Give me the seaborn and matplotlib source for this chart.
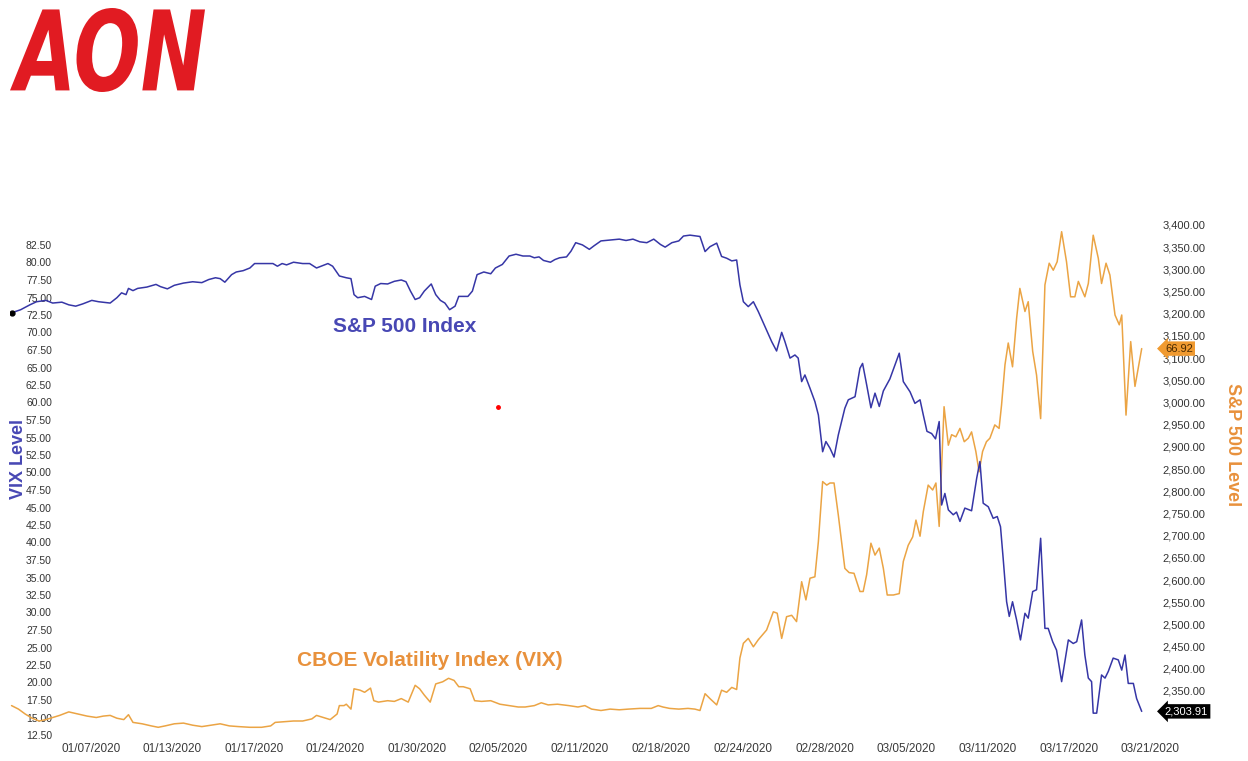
import matplotlib
matplotlib.use("Agg")
import matplotlib.pyplot as plt
import matplotlib.transforms as mtransforms
from matplotlib.textpath import TextPath
from matplotlib.patches import PathPatch
from matplotlib.font_manager import FontProperties
from matplotlib.ticker import FuncFormatter
import numpy as np
import seaborn as sns

# x axis is in trading-session units (01/07/2020 = 3, one tick every 4 sessions)
sp_day = [-0.90, -0.45, 0.00, 0.33, 0.79, 1.12, 1.57, 1.91, 2.25, 2.59, 3.04, 3.37, 3.94, 4.27, 4.50,
          4.72, 4.84, 5.06, 5.29, 5.74, 6.19, 6.41, 6.75, 7.09, 7.54, 7.99, 8.44, 8.78, 9.11, 9.34,
          9.57, 9.90, 10.13, 10.47, 10.80, 11.03, 11.48, 11.93, 12.15, 12.38, 12.60, 12.94, 13.39,
          13.73, 14.07, 14.29, 14.63, 14.86, 15.19, 15.53, 15.76, 15.91, 16.09, 16.43, 16.77, 16.95,
          17.22, 17.56, 17.89, 18.23, 18.46, 18.68, 18.91, 19.13, 19.36, 19.70, 19.92, 20.15, 20.37,
          20.60, 20.87, 21.05, 21.50, 21.72, 21.95, 22.28, 22.62, 22.85, 23.19, 23.52, 23.86, 24.20,
          24.54, 24.76, 24.99, 25.21, 25.55, 25.77, 26.00, 26.34, 26.56, 26.79, 27.12, 27.46, 27.69,
          28.03, 28.48, 28.93, 29.26, 29.60, 29.94, 30.28, 30.62, 30.95, 31.18, 31.51, 31.85, 32.08,
          32.40, 32.89, 33.14, 33.38, 33.71, 33.95, 34.20, 34.45, 34.69, 34.85, 35.02, 35.26, 35.51,
          35.75, 36.08, 36.41, 36.65, 36.90, 37.06, 37.31, 37.55, 37.71, 37.88, 38.04, 38.29, 38.53,
          38.70, 38.91, 39.07, 39.27, 39.47, 39.68, 40.00, 40.17, 40.50, 40.74, 40.87, 41.07, 41.28,
          41.48, 41.69, 41.89, 42.21, 42.67, 42.87, 43.20, 43.44, 43.69, 43.85, 44.03, 44.26, 44.45,
          44.63, 44.75, 44.91, 45.08, 45.32, 45.48, 45.65, 45.89, 46.22, 46.47, 46.63, 46.79, 47.04,
          47.28, 47.48, 47.64, 47.77, 47.94, 48.07, 48.23, 48.43, 48.62, 48.84, 49.00, 49.22, 49.41,
          49.61, 49.82, 49.98, 50.20, 50.39, 50.64, 50.97, 51.21, 51.38, 51.62, 51.78, 51.95, 52.11,
          52.19, 52.36, 52.60, 52.77, 52.93, 53.17, 53.42, 53.59, 53.75, 53.91, 54.16, 54.32, 54.57]
sp_level = [3202, 3209, 3220, 3227, 3230, 3224, 3226, 3220, 3217, 3222, 3230, 3227, 3224, 3236, 3247,
            3243, 3257, 3252, 3257, 3260, 3266, 3261, 3256, 3264, 3269, 3272, 3270, 3277, 3281, 3279,
            3271, 3288, 3294, 3297, 3303, 3313, 3313, 3313, 3307, 3313, 3310, 3316, 3313,
            3313, 3303, 3307, 3313, 3307, 3285, 3281, 3279, 3243, 3236, 3239, 3232, 3262,
            3268, 3267, 3273, 3276, 3272, 3251, 3232, 3236, 3251, 3267, 3243, 3230, 3224,
            3209, 3217, 3239, 3239, 3251, 3288, 3294, 3290, 3303, 3311, 3330, 3334, 3330,
            3330, 3326, 3328, 3320, 3316, 3322, 3326, 3328, 3341, 3360, 3355, 3345, 3353,
            3364, 3366, 3368, 3365, 3368, 3362, 3360, 3368, 3356, 3350, 3360, 3364, 3375,
            3377, 3374, 3340, 3351, 3359, 3329, 3325, 3319, 3321, 3265, 3227, 3216, 3227,
            3205, 3171, 3137, 3116, 3158, 3137, 3100, 3107, 3100, 3047, 3062, 3032, 3002,
            2972, 2889, 2912, 2897, 2877, 2927, 2987, 3006, 3013, 3077, 3088, 3040, 2988,
            3021, 2991, 3026, 3053, 3111, 3047, 3024, 2998, 3006, 2972, 2935, 2930, 2918,
            2957, 2769, 2795, 2758, 2747, 2753, 2732, 2762, 2756, 2829, 2867, 2773, 2765,
            2739, 2743, 2720, 2649, 2551, 2518, 2551, 2510, 2465, 2525, 2514, 2574, 2578,
            2694, 2491, 2491, 2461, 2442, 2371, 2465, 2457, 2461, 2510, 2431, 2379, 2371,
            2300, 2300, 2386, 2379, 2394, 2424, 2420, 2397, 2431, 2367, 2367, 2333, 2304]

vix_day = [-0.90, -0.56, -0.23, 0.11, 0.45, 0.79, 1.12, 1.46, 1.91, 2.36, 2.81, 3.26, 3.60, 3.94, 4.27,
           4.61, 4.84, 5.06, 5.51, 5.96, 6.30, 6.64, 7.09, 7.54, 7.99, 8.44, 8.89, 9.34, 9.79, 10.24,
           10.80, 11.37, 11.82, 12.04, 12.49, 12.94, 13.39, 13.84, 14.07, 14.41, 14.74, 15.08, 15.19,
           15.42, 15.53, 15.76, 15.91, 16.21, 16.43, 16.72, 16.88, 17.11, 17.56, 17.89, 18.23, 18.57,
           18.91, 19.13, 19.36, 19.65, 19.92, 20.26, 20.55, 20.82, 21.05, 21.27, 21.61, 21.83, 22.17,
           22.62, 23.07, 23.52, 23.97, 24.31, 24.76, 25.10, 25.44, 25.89, 26.45, 26.90, 27.24, 27.57,
           28.03, 28.48, 28.93, 29.38, 29.94, 30.50, 30.84, 31.07, 31.40, 31.85, 32.30, 32.64,
           32.89, 33.14, 33.38, 33.71, 33.95, 34.20, 34.45, 34.69, 34.85, 35.02, 35.26, 35.51, 35.75,
           36.16, 36.49, 36.68, 36.90, 37.14, 37.39, 37.63, 37.88, 38.09, 38.29, 38.53, 38.70, 38.91,
           39.11, 39.27, 39.47, 39.68, 40.00, 40.21, 40.45, 40.74, 40.90, 41.07, 41.28, 41.48, 41.69,
           41.89, 42.08, 42.38, 42.67, 42.87, 43.11, 43.33, 43.49, 43.69, 43.85,
           44.09, 44.31, 44.47, 44.63, 44.87, 45.08, 45.24, 45.45, 45.65, 45.86, 46.06, 46.22, 46.43,
           46.59, 46.76, 46.95, 47.12, 47.36, 47.57, 47.69, 47.86, 48.02, 48.23, 48.43, 48.59, 48.84,
           49.00, 49.22, 49.41, 49.61, 49.82, 50.03, 50.23, 50.42, 50.64, 50.88, 51.08, 51.29, 51.46,
           51.78, 51.95, 52.19, 52.44, 52.60, 52.82, 53.01, 53.26, 53.47, 53.59, 53.80, 54.03, 54.24,
           54.57]
vix_level = [16.7, 16.2, 15.5, 14.9, 14.5, 14.7, 15.0, 15.3, 15.8, 15.5, 15.2, 15.0, 15.2, 15.3, 14.9,
             14.7, 15.4, 14.3, 14.1, 13.8, 13.6, 13.8, 14.1, 14.2, 13.9, 13.7, 13.9, 14.1, 13.8, 13.7,
             13.6, 13.6, 13.8, 14.3, 14.4, 14.5, 14.5, 14.8, 15.3, 15.0, 14.7, 15.5, 16.7,
             16.7, 16.9, 16.2, 19.1, 18.9, 18.6, 19.2, 17.4, 17.2, 17.4, 17.3, 17.7, 17.2,
             19.6, 19.1, 18.2, 17.2, 19.8, 20.1, 20.6, 20.3, 19.4, 19.4, 19.1, 17.4, 17.3,
             17.4, 16.9, 16.7, 16.5, 16.5, 16.7, 17.1, 16.8, 16.9, 16.7, 16.5, 16.7, 16.2,
             16.0, 16.2, 16.1, 16.2, 16.3, 16.3, 16.7, 16.5, 16.3, 16.2, 16.3, 16.2,
             16.0, 18.4, 17.7, 16.8, 18.9, 18.6, 19.3, 19.0, 23.5, 25.6, 26.3, 25.1, 26.1,
             27.5, 30.1, 29.9, 26.3, 29.4, 29.6, 28.7, 34.4, 31.8, 34.9, 35.1, 40.1, 48.7,
             48.2, 48.5, 48.5, 43.9, 36.3, 35.7, 35.6, 33.0, 33.0, 35.4, 39.9, 38.2, 39.2,
             36.3, 32.5, 32.5, 32.7, 37.3, 39.6, 40.8, 43.2, 40.9, 44.4,
             48.2, 47.5, 48.5, 42.3, 59.4, 53.9, 55.4, 55.1, 56.3, 54.4, 54.9, 55.8, 53.0,
             50.1, 53.0, 54.4, 54.9, 56.8, 56.3, 59.6, 65.4, 68.5, 65.1, 72.0, 76.3, 73.0,
             74.4, 67.3, 63.9, 57.7, 76.8, 79.9, 78.9, 80.1, 84.4, 80.1, 75.1, 75.1, 77.3,
             75.1, 77.0, 83.9, 80.6, 77.0, 79.9, 78.2, 72.5, 71.1, 72.5, 58.2, 68.7, 62.3,
             67.7]

date_pos = [3, 7, 11, 15, 19, 23, 27, 31, 35, 39, 43, 47, 51, 55]
date_labels = ["01/07/2020", "01/13/2020", "01/17/2020", "01/24/2020", "01/30/2020", "02/05/2020",
               "02/11/2020", "02/18/2020", "02/24/2020", "02/28/2020", "03/05/2020", "03/11/2020",
               "03/17/2020", "03/21/2020"]
vix_ticks = np.arange(12.5, 82.51, 2.5)
sp_ticks = np.arange(2350, 3400.1, 50)
vix_last_label = "66.92"
sp_last_label = "2,303.91"
red_dot_day, red_dot_level = 22.98, 59.4

BLUE = "#3636a6"
BLUE_TXT = "#4848b4"
ORANGE = "#eba444"
ORANGE_TXT = "#e8913c"
AON_RED = "#e11b22"

sns.set_theme(style="white")
plt.rcParams['font.family'] = ['Liberation Sans', 'DejaVu Sans']

W, H = 1248, 761
fig = plt.figure(figsize=(W / 100, H / 100), dpi=100)
ax1 = fig.add_axes([10 / W, 19 / H, 1148 / W, 521.5 / H])
ax2 = ax1.twinx()

sns.lineplot(x=vix_day, y=vix_level, ax=ax1, color=ORANGE, linewidth=1.1, estimator=None, sort=False)
sns.lineplot(x=sp_day, y=sp_level, ax=ax2, color=BLUE, linewidth=1.1, estimator=None, sort=False)
ax2.plot(sp_day[0], sp_level[0], 'o', color='black', ms=3.5)
ax1.plot(red_dot_day, red_dot_level, 'o', color='red', ms=2.5)

ax1.set_xlim(-0.975, 55.37)
ax1.set_ylim(11.5, 86.0)
ax2.set_ylim(2235, 3410)

ax1.set_xticks(date_pos)
ax1.set_xticklabels(date_labels)
ax1.set_yticks(vix_ticks)
ax1.yaxis.set_major_formatter(FuncFormatter(lambda v, p: f"{v:.2f}"))
ax2.set_yticks(sp_ticks)
ax2.yaxis.set_major_formatter(FuncFormatter(lambda v, p: f"{v:,.2f}"))

ax1.tick_params(axis='x', length=0, pad=1, labelsize=8.5, labelcolor='#3a3a3a')
ax1.tick_params(axis='y', length=0, pad=-30.2, labelsize=7.5, labelcolor='#333333')
ax2.tick_params(axis='y', length=0, pad=3, labelsize=8, labelcolor='#333333')
for ax in (ax1, ax2):
    ax.set_xlabel("")
    ax.set_ylabel("")
    ax.grid(False)
    for s in ax.spines.values():
        s.set_visible(False)

ax1.text(0.007, 0.543, "VIX Level", transform=ax1.transAxes, rotation=90, ha='center', va='center',
         color=BLUE_TXT, fontsize=13, fontweight='bold')
ax2.text(1.0645, 0.57, "S&P 500 Level", transform=ax2.transAxes, rotation=270, ha='center', va='center',
         color=ORANGE_TXT, fontsize=13, fontweight='bold', clip_on=False)
ax1.text(18.41, 70.9, "S&P 500 Index", ha='center', va='center', color=BLUE_TXT,
         fontsize=15, fontweight='bold')
ax1.text(19.64, 23.1, "CBOE Volatility Index (VIX)", ha='center', va='center', color=ORANGE_TXT,
         fontsize=15, fontweight='bold')

# last-value tags at the right edge
tr_sp = mtransforms.blended_transform_factory(ax2.transAxes, ax2.transData)
ax2.text(1.006, sp_level[-1], sp_last_label, transform=tr_sp, ha='left', va='center', fontsize=8,
         color='white', zorder=10, clip_on=False,
         bbox=dict(boxstyle='larrow,pad=0.2', fc='black', ec='none'))
tr_vix = mtransforms.blended_transform_factory(ax2.transAxes, ax1.transData)
ax2.text(1.006, vix_level[-1], vix_last_label, transform=tr_vix, ha='left', va='center', fontsize=8,
         color='#4a2a00', zorder=10, clip_on=False,
         bbox=dict(boxstyle='larrow,pad=0.2', fc='#f09a30', ec='none'))

# Aon logo
tp = TextPath((0, 0), "AON", size=1, prop=FontProperties(family='DejaVu Sans', weight='bold', style='italic'))
ext = tp.get_extents()
logo_tr = (mtransforms.Affine2D().translate(-ext.x0, -ext.y0)
           .scale(195 / ext.width, 84 / ext.height).translate(10, H - 92)
           .scale(1 / W, 1 / H) + fig.transFigure)
fig.add_artist(PathPatch(tp, transform=logo_tr, fc=AON_RED, ec='none'))

fig.savefig("out.png", dpi=100)
